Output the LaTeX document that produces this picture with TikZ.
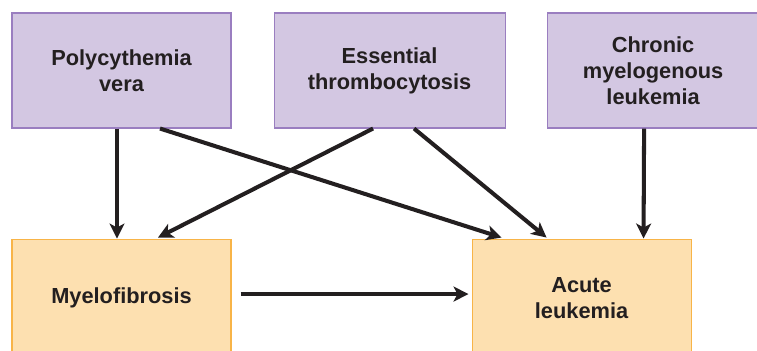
\documentclass[tikz,border=0pt]{standalone}
\usepackage{fontspec}
\setmainfont{Liberation Sans}
\usepackage{tikz}
\usetikzlibrary{positioning,arrows.meta}

\definecolor{causefill}{HTML}{D3C7E2}
\definecolor{causeline}{HTML}{9A7EC0}
\definecolor{resultfill}{HTML}{FDE0B0}
\definecolor{resultline}{HTML}{F8B447}
\definecolor{inktext}{HTML}{231F20}

\begin{document}
\begin{tikzpicture}[
        node distance=0.84cm,
        >={Stealth[length=3mm, width=3mm, inset=0.8mm]},
        cause/.style={rectangle, draw=causeline, fill=causefill, line width=0.6pt, align=center,
            minimum height=2.3cm, text=inktext, font=\fontsize{12.4}{14.8}\selectfont\bfseries},
        result/.style={rectangle, draw=resultline, fill=resultfill, line width=0.6pt, align=center,
            minimum width=4.38cm, minimum height=2.36cm, text=inktext, font=\fontsize{12.4}{14.8}\selectfont\bfseries},
        arrow/.style={->, line width=2.3pt, draw=inktext}
    ]
    \useasboundingbox (0,0) rectangle (15.14,-7.0);
    \node[cause, minimum width=4.38cm] (pv) at (2.43,-1.41) {Polycythemia\\vera};
    \node[cause, minimum width=4.62cm, right=of pv] (et) {Essential\\thrombocytosis};
    \node[cause, minimum width=4.24cm, right=0.82cm of et] (cml) {Chronic\\myelogenous\\leukemia};
    \node[result, below=2.2cm of pv] (mf) {Myelofibrosis};
    \node[result, right=4.8cm of mf] (al) {Acute\\leukemia};

    \draw[arrow] ([xshift=-0.09cm]pv.south) -- ([xshift=-0.09cm]mf.north);
    \draw[arrow] ([xshift=0.77cm]pv.south) -- ([xshift=-1.6cm, yshift=0.02cm]al.north);
    \draw[arrow] ([xshift=-0.33cm]et.south) -- ([xshift=0.73cm, yshift=0.02cm]mf.north);
    \draw[arrow] ([xshift=0.49cm]et.south) -- ([xshift=-0.7cm, yshift=0.02cm]al.north);
    \draw[arrow] ([xshift=-0.18cm]cml.south) -- ([xshift=1.24cm]al.north);
    \draw[arrow] ([xshift=0.18cm, yshift=0.08cm]mf.east) -- ([xshift=-0.06cm, yshift=0.08cm]al.west);
\end{tikzpicture}
\end{document}
